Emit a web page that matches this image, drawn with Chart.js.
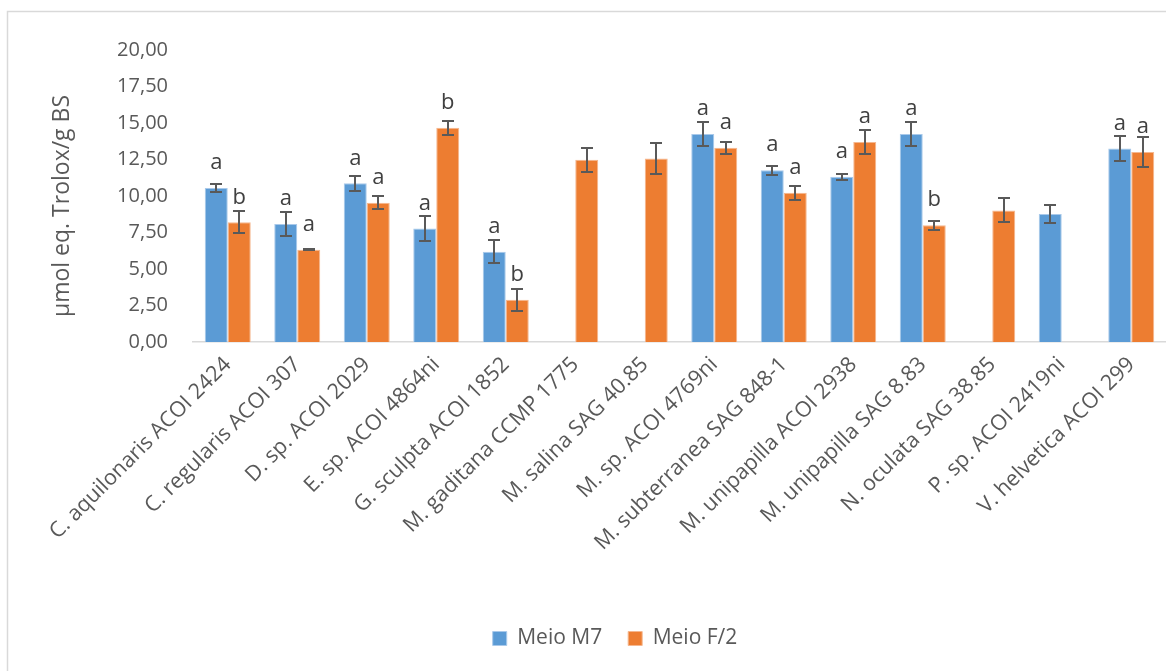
<!DOCTYPE html>
<html>
<head>
<meta charset="utf-8">
<title>Capacidade antioxidante</title>
<script src="https://cdn.jsdelivr.net/npm/chart.js@4.4.1/dist/chart.umd.min.js"></script>
<style>
  html, body { margin: 0; padding: 0; background: #ffffff; }
  #wrap { width: 1166px; height: 671px; }
</style>
</head>
<body>
<div id="wrap"><canvas id="chart" width="1166" height="671"></canvas></div>
<script>
// Strains (categories)
const categories = [
  'C. aquilonaris ACOI 2424',
  'C. regularis ACOI 307',
  'D. sp. ACOI 2029',
  'E. sp. ACOI 4864ni',
  'G. sculpta ACOI 1852',
  'M. gaditana CCMP 1775',
  'M. salina SAG 40.85',
  'M. sp. ACOI 4769ni',
  'M. subterranea SAG 848-1',
  'M. unipapilla ACOI 2938',
  'M. unipapilla SAG 8.83',
  'N. oculata SAG 38.85',
  'P. sp. ACOI 2419ni',
  'V. helvetica ACOI 299'
];

// Antioxidant activity (µmol eq. Trolox / g BS), mean values
const m7Values = [10.55, 8.09, 10.87, 7.77, 6.18, null, null, 14.25, 11.77, 11.31, 14.25, null, 8.76, 13.26];
const f2Values = [8.20, 6.32, 9.54, 14.67, 2.90, 12.48, 12.57, 13.31, 10.23, 13.70, 8.00, 9.01, null, 13.01];

// Standard deviations
const m7Errors = [0.25, 0.80, 0.50, 0.87, 0.80, null, null, 0.80, 0.30, 0.18, 0.80, null, 0.62, 0.87];
const f2Errors = [0.75, 0.05, 0.45, 0.50, 0.75, 0.83, 1.05, 0.40, 0.48, 0.83, 0.30, 0.82, null, 1.00];

// Significance letters between culture media
const m7Letters = ['a', 'a', 'a', 'a', 'a', '', '', 'a', 'a', 'a', 'a', '', '', 'a'];
const f2Letters = ['b', 'a', 'a', 'b', 'b', '', '', 'a', 'a', 'a', 'b', '', '', 'a'];

// Series names and axis title
const seriesNames = ['Meio M7', 'Meio F/2'];
const yTitle = 'µmol eq. Trolox/g BS';

const FONT = "'Open Sans', 'Noto Sans', sans-serif";
const TEXT = '#595959';

// White background, thin outer frame and the vertical axis title
const framePlugin = {
  id: 'frame',
  beforeDraw(chart) {
    const ctx = chart.ctx;
    ctx.save();
    ctx.fillStyle = '#ffffff';
    ctx.fillRect(0, 0, chart.width, chart.height);
    ctx.strokeStyle = '#d9d9d9';
    ctx.lineWidth = 1.5;
    ctx.beginPath();
    ctx.moveTo(7.5, chart.height);
    ctx.lineTo(7.5, 11.5);
    ctx.lineTo(chart.width, 11.5);
    ctx.stroke();

    ctx.translate(62, 206);
    ctx.rotate(-Math.PI / 2);
    ctx.fillStyle = TEXT;
    ctx.font = '23px ' + FONT;
    ctx.textAlign = 'center';
    ctx.textBaseline = 'middle';
    ctx.fillText(yTitle, 0, 0);
    ctx.restore();
  },
  // keep the legend centred a little right of the canvas middle
  afterLayout(chart) {
    const lg = chart.legend;
    if (lg) { lg.left += 32; lg.right += 32; }
  }
};

// Error bars (± SD) and significance letters above each bar
const errorLetterPlugin = {
  id: 'errorLetters',
  afterDatasetsDraw(chart) {
    const ctx = chart.ctx;
    const y = chart.scales.y;
    ctx.save();
    chart.data.datasets.forEach((ds, di) => {
      const meta = chart.getDatasetMeta(di);
      if (meta.hidden) return;
      meta.data.forEach((bar, i) => {
        const v = ds.data[i];
        if (v === null || v === undefined) return;
        const e = ds.errors[i];
        if (e !== null && e !== undefined) {
          const yt = Math.round(y.getPixelForValue(v + e));
          const yb = Math.round(y.getPixelForValue(v - e));
          const x = Math.round(bar.x);
          ctx.strokeStyle = '#595959';
          ctx.lineWidth = 2;
          ctx.beginPath();
          ctx.moveTo(x, yt);
          ctx.lineTo(x, yb);
          ctx.moveTo(x - 6, yt);
          ctx.lineTo(x + 6, yt);
          ctx.moveTo(x - 6, yb);
          ctx.lineTo(x + 6, yb);
          ctx.stroke();
        }
        const letter = ds.letters[i];
        if (letter) {
          ctx.fillStyle = '#404040';
          ctx.font = '22px ' + FONT;
          ctx.textAlign = 'center';
          ctx.textBaseline = 'middle';
          ctx.fillText(letter, bar.x, bar.y - 25);
        }
      });
    });
    ctx.restore();
  }
};

new Chart(document.getElementById('chart'), {
  type: 'bar',
  data: {
    labels: categories,
    datasets: [
      {
        label: seriesNames[0],
        data: m7Values,
        errors: m7Errors,
        letters: m7Letters,
        backgroundColor: '#5b9bd5',
        borderColor: '#a9c9ea',
        borderWidth: 1
      },
      {
        label: seriesNames[1],
        data: f2Values,
        errors: f2Errors,
        letters: f2Letters,
        backgroundColor: '#ed7d31',
        borderColor: '#f5b78f',
        borderWidth: 1
      }
    ]
  },
  options: {
    responsive: false,
    animation: false,
    datasets: {
      bar: { categoryPercentage: 0.662, barPercentage: 1.0 }
    },
    layout: { padding: { top: 50, right: 0, bottom: 12, left: 0 } },
    plugins: {
      legend: {
        position: 'bottom',
        labels: {
          font: { family: FONT, size: 21 },
          color: TEXT,
          boxWidth: 14,
          boxHeight: 14,
          padding: 26
        }
      },
      tooltip: { enabled: false }
    },
    scales: {
      x: {
        grid: { display: false, drawTicks: false },
        border: { display: true, color: '#d9d9d9', width: 1.5 },
        ticks: {
          color: TEXT,
          font: { family: FONT, size: 21.5 },
          minRotation: 45,
          maxRotation: 45,
          autoSkip: false,
          padding: 10
        },
        afterFit(scale) { scale.height = 260; }
      },
      y: {
        min: 0,
        max: 20,
        grid: { display: false, drawTicks: false },
        border: { display: false },
        ticks: {
          stepSize: 2.5,
          color: TEXT,
          font: { family: FONT, size: 20 },
          padding: 25,
          callback: (v) => Number(v).toFixed(2).replace('.', ',')
        },
        afterFit(scale) { scale.width = 193; }
      }
    }
  },
  plugins: [framePlugin, errorLetterPlugin]
});
</script>
</body>
</html>
